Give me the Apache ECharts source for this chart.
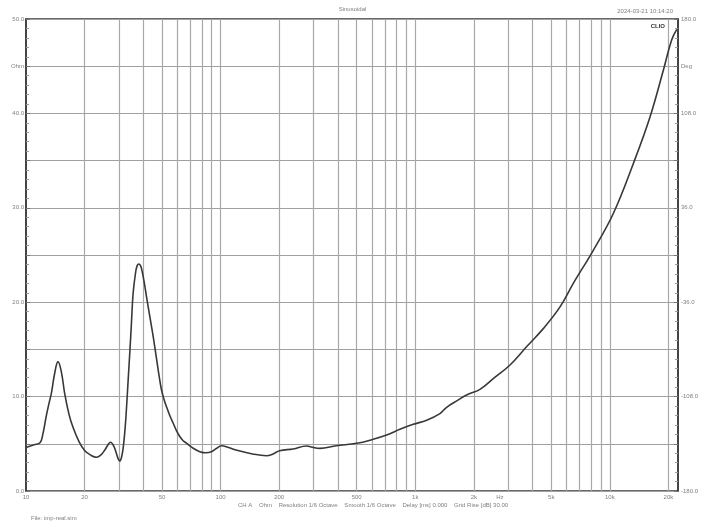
<!DOCTYPE html>
<html>
<head>
<meta charset="utf-8">
<script src="https://cdn.jsdelivr.net/npm/echarts@6/dist/echarts.min.js"></script>
<style>html,body{margin:0;padding:0;background:#fff}#c{width:705px;height:529px}</style>
</head>
<body>
<div id="c"></div>
<script>
// Frequency (Hz) and impedance (Ohm)
const freqs = [10, 11, 11.8, 12.2, 12.7, 13.1, 13.5, 14.05, 14.6, 15.2, 15.8, 16.6, 17.4, 18.75, 20, 21.5, 23.0, 24.2, 25.4, 26.4, 27.2, 27.9, 28.6, 29.7, 30.3, 30.9, 31.5, 32.2, 32.8, 33.5, 34.2, 34.8, 35.5, 36.6, 37.3, 38.0, 38.7, 39.4, 40.5, 41.6, 43.5, 45.0, 46.7, 48.2, 49.7, 51.2, 52.7, 54.8, 57, 59.3, 61.7, 64, 66.8, 72.3, 78.2, 84, 89.7, 95, 101, 110, 120, 146, 172, 185, 201, 236, 276, 300, 324, 393, 500, 608, 713, 834, 977, 1145, 1340, 1450, 1650, 1837, 2151, 2518, 3069, 3741, 4550, 5546, 6490, 8222, 10420, 13210, 16100, 18850, 20800, 22080];
const ohms = [4.6, 4.9, 5.1, 6.0, 7.9, 9.2, 10.35, 12.5, 13.7, 12.6, 10.35, 8.2, 6.8, 5.2, 4.3, 3.8, 3.57, 3.8, 4.34, 4.9, 5.16, 4.95, 4.5, 3.46, 3.18, 3.5, 4.4, 6.3, 8.6, 11.8, 14.9, 17.7, 20.9, 23.2, 23.9, 24.05, 23.9, 23.4, 22.1, 20.6, 18.2, 16.4, 14.2, 12.3, 10.7, 9.7, 8.93, 8.0, 7.2, 6.4, 5.77, 5.35, 5.06, 4.53, 4.17, 4.05, 4.16, 4.5, 4.8, 4.6, 4.34, 3.92, 3.74, 3.9, 4.27, 4.45, 4.77, 4.6, 4.52, 4.8, 5.05, 5.48, 5.93, 6.53, 7.06, 7.5, 8.2, 8.87, 9.6, 10.17, 10.77, 11.9, 13.35, 15.3, 17.2, 19.5, 22.0, 25.5, 29.4, 34.7, 39.65, 44.6, 47.8, 48.9];

// Vertical grid lines (Hz) and labelled ticks
const gridFreqs = [20, 30, 40, 50, 60, 70, 80, 90, 100, 200, 300, 400, 500, 600, 700, 800, 900, 1000, 2000, 3000, 4000, 5000, 6000, 7000, 8000, 9000, 10000, 20000];
const tickFreqs = [10, 20, 50, 100, 200, 500, 1000, 2000, 5000, 10000, 20000];
const tickLabels = ['10', '20', '50', '100', '200', '500', '1k', '2k', '5k', '10k', '20k'];
const unitFreq = 2720;
const unitLabel = 'Hz';

const rightLabels = {'180': '180.0', '144': 'Deg', '108': '108.0', '36': '36.0', '-36': '-36.0', '-108': '-108.0', '-180': '-180.0'};

const FONT = 'Liberation Sans';
const LBL = '#808080';

const chart = echarts.init(document.getElementById('c'), null, {renderer: 'canvas'});

const gridLineData = gridFreqs.map(f => ({xAxis: f}));
const tickLabelData = tickFreqs.map((f, i) => ({xAxis: f, label: {formatter: tickLabels[i]}}));
tickLabelData.push({xAxis: unitFreq, label: {formatter: unitLabel}});

chart.setOption({
  animation: false,
  backgroundColor: '#ffffff',
  title: [
    {text: 'Sinusoidal', left: 'center', top: 1, textStyle: {fontFamily: FONT, fontSize: 6, fontWeight: 'normal', color: LBL}},
    {text: '2024-03-21 10:14:20', right: 27, top: 3, textStyle: {fontFamily: FONT, fontSize: 6, fontWeight: 'normal', color: LBL}},
    {text: 'CLIO', right: 35, top: 18, textStyle: {fontFamily: FONT, fontSize: 6, fontWeight: 'bold', color: '#333'}},
    {text: 'CH A    Ohm    Resolution 1/6 Octave    Smooth 1/6 Octave    Delay [ms] 0.000    Grid Rise [dB] 30.00', left: 233, top: 497, textStyle: {fontFamily: FONT, fontSize: 6, fontWeight: 'normal', color: LBL}},
    {text: 'File: imp-real.sim', left: 26, top: 510, textStyle: {fontFamily: FONT, fontSize: 6, fontWeight: 'normal', color: LBL}}
  ],
  grid: {left: 26, right: 27, top: 19, bottom: 38, show: true, borderColor: '#3a3a3a', borderWidth: 1.5, containLabel: false},
  xAxis: {
    type: 'log', logBase: 10, min: 10, max: 22400,
    axisLine: {show: false}, axisTick: {show: false}, axisLabel: {show: false}, splitLine: {show: false}
  },
  yAxis: [
    {
      type: 'value', min: 0, max: 50, interval: 5, position: 'left',
      axisLine: {show: true, lineStyle: {color: '#3a3a3a', width: 1.5}},
      axisTick: {show: true, inside: true, length: 4, lineStyle: {color: '#777'}},
      minorTick: {show: true, splitNumber: 5, length: 3, lineStyle: {color: '#999'}},
      splitLine: {show: true, lineStyle: {color: '#a0a0a0', width: 1}},
      axisLabel: {fontFamily: FONT, fontSize: 6, color: LBL, margin: 2,
        formatter: v => v === 45 ? 'Ohm' : (v % 10 === 0 ? v.toFixed(1) : '')}
    },
    {
      type: 'value', min: -180, max: 180, interval: 36, position: 'right',
      axisLine: {show: true, lineStyle: {color: '#3a3a3a', width: 1.5}},
      axisTick: {show: true, inside: true, length: 4, lineStyle: {color: '#777'}},
      minorTick: {show: true, splitNumber: 5, length: 3, lineStyle: {color: '#999'}},
      splitLine: {show: false},
      axisLabel: {fontFamily: FONT, fontSize: 6, color: LBL, margin: 3,
        formatter: v => rightLabels[String(Math.round(v))] || ''}
    }
  ],
  series: [
    {
      name: 'grid', type: 'line', data: [], silent: true, z: 1,
      markLine: {
        silent: true, symbol: 'none', animation: false,
        lineStyle: {color: '#a8a8a8', width: 1.2, type: 'solid'},
        label: {show: false},
        data: gridLineData
      }
    },
    {
      name: 'ticks', type: 'line', data: [], silent: true, z: 1,
      markLine: {
        silent: true, symbol: 'none', animation: false,
        lineStyle: {color: 'rgba(0,0,0,0)', width: 0},
        label: {show: true, position: 'start', distance: 3, fontFamily: FONT, fontSize: 6, color: LBL},
        data: tickLabelData
      }
    },
    {
      name: 'Impedance', type: 'line', yAxisIndex: 0, z: 5,
      data: freqs.map((f, i) => [f, ohms[i]]),
      showSymbol: false, smooth: 0.4,
      lineStyle: {color: '#383838', width: 1.6}
    }
  ]
});
</script>
</body>
</html>
